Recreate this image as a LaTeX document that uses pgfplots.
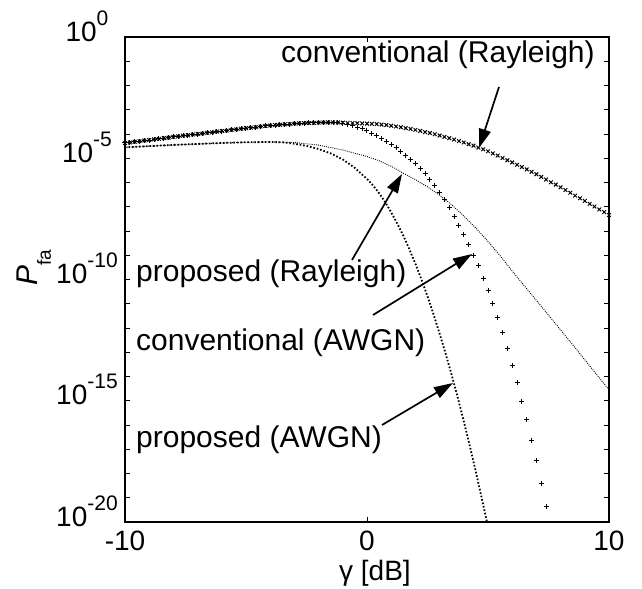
\documentclass[border=0pt]{standalone}
\usepackage{fontspec}
\setmainfont{Liberation Sans}
\usepackage{pgfplots}
\pgfplotsset{compat=1.18}
\usetikzlibrary{arrows.meta}
\newcommand{\tl}[1]{10\raisebox{16bp}{\fontsize{21bp}{21bp}\selectfont #1}}
\begin{document}
\begin{tikzpicture}
\path[use as bounding box] (-125bp,-67bp) rectangle (517bp,522bp);
\begin{axis}[
  at={(0,0)}, anchor=south west,
  scale only axis, width=484bp, height=485bp,
  xmin=-10, xmax=10, ymode=log, ymin=1e-20, ymax=1,
  xtick={-10,0,10}, xticklabels={-10,0,10},
  ytick={1e-20,1e-15,1e-10,1e-5,1},
  yticklabels={\tl{-20},\tl{-15},\tl{-10},\tl{-5},\tl{0}},
  minor ytick={1e-19,1e-18,1e-17,1e-16,1e-14,1e-13,1e-12,1e-11,1e-9,1e-8,1e-7,1e-6,1e-4,1e-3,1e-2,1e-1},
  tick align=inside, major tick length=5bp, minor tick length=5bp,
  tick style={black, line width=0.9bp},
  axis line style={line width=1.5bp},
  tick label style={font=\fontsize{28bp}{30bp}\selectfont},
  xticklabel style={anchor=base, yshift=-28bp},
  yticklabel style={anchor=base, xshift=-38bp, yshift=-4bp},
  xlabel={γ [dB]},
  xlabel style={at={(rel axis cs:0.5165,-0.1196)}, anchor=base, font=\fontsize{28bp}{30bp}\selectfont},
  ylabel={\textit{P}\raisebox{-13bp}{\fontsize{19bp}{19bp}\selectfont fa}},
  ylabel style={at={(rel axis cs:-0.1798,0.5247)}, anchor=base, rotate=0, font=\fontsize{30bp}{32bp}\selectfont},
  clip mode=individual,
]
% proposed (Rayleigh): thin dotted
\addplot[black, line width=0.9bp, dash pattern=on 0.9bp off 1.2bp] coordinates {
(-10,2.82e-5) (-9,3.16e-5) (-8,3.55e-5) (-7,3.89e-5) (-6,4.27e-5) (-5,4.57e-5)
(-4,4.68e-5) (-3,4.47e-5) (-2,3.47e-5) (-1,2.19e-5) (0,1.17e-5) (0.5,7.94e-6)
(1,4.68e-6) (1.5,2.40e-6) (2,1.32e-6) (2.5,6.61e-7) (3,3.02e-7) (3.5,1.20e-7)
(4,4.17e-8) (4.5,1.32e-8) (5,3.72e-9) (5.5,9.55e-10) (6,2.24e-10) (6.5,5.50e-11)
(7,1.38e-11) (7.5,3.39e-12) (8,8.32e-13) (8.5,2.04e-13) (9,4.90e-14) (9.5,1.17e-14)
(10,2.82e-15)};
% proposed (AWGN): thick dotted
\addplot[black, line width=1.8bp, dash pattern=on 1.6bp off 1.9bp] coordinates {
(-10,2.82e-5) (-9,3.16e-5) (-8,3.55e-5) (-7,3.89e-5) (-6,4.27e-5) (-5,4.57e-5)
(-4,4.68e-5) (-3.5,4.57e-5) (-3,3.98e-5) (-2.5,3.24e-5) (-2,2.40e-5) (-1.5,1.58e-5)
(-1,8.91e-6) (-0.5,3.98e-6) (0,1.41e-6) (0.25,7.59e-7) (0.5,3.63e-7) (0.75,1.55e-7)
(1,5.89e-8) (1.25,2.04e-8) (1.5,6.46e-9) (1.75,1.78e-9) (2,4.47e-10) (2.25,1.0e-10)
(2.5,2.04e-11) (2.75,3.63e-12) (3,5.89e-13) (3.25,8.71e-14) (3.5,1.15e-14)
(3.75,1.35e-15) (4,1.41e-16) (4.25,1.35e-17) (4.5,1.15e-18) (4.75,8.71e-20) (5,6.31e-21)};
% conventional (AWGN): plus marks
\addplot[black, only marks, mark=+, mark size=2.5bp, mark options={line width=1bp}] coordinates {
(-10,4.27e-5) (-9.8,4.47e-5) (-9.6,4.79e-5) (-9.4,5.01e-5) (-9.2,5.37e-5) (-9,5.62e-5)
(-8.8,6.03e-5) (-8.6,6.31e-5) (-8.4,6.76e-5) (-8.2,7.08e-5) (-8,7.59e-5) (-7.8,7.94e-5)
(-7.6,8.51e-5) (-7.4,8.91e-5) (-7.2,9.55e-5) (-7,1.00e-4) (-6.8,1.05e-4) (-6.6,1.12e-4)
(-6.4,1.17e-4) (-6.2,1.26e-4) (-6,1.32e-4) (-5.8,1.38e-4) (-5.6,1.48e-4) (-5.4,1.55e-4)
(-5.2,1.66e-4) (-5,1.74e-4) (-4.8,1.82e-4) (-4.6,1.91e-4) (-4.4,2.04e-4) (-4.2,2.14e-4)
(-4,2.24e-4) (-3.8,2.34e-4) (-3.6,2.40e-4) (-3.4,2.51e-4) (-3.2,2.57e-4) (-3,2.69e-4)
(-2.8,2.75e-4) (-2.6,2.82e-4) (-2.4,2.85e-4) (-2.2,2.88e-4) (-2,2.95e-4) (-1.8,2.99e-4)
(-1.6,3.02e-4) (-1.4,3.02e-4) (-1.2,2.88e-4) (-1,2.69e-4) (-0.8,2.45e-4) (-0.6,2.19e-4)
(-0.4,1.91e-4) (-0.2,1.62e-4) (0,1.35e-4) (0.2,1.10e-4) (0.4,8.71e-5) (0.6,6.76e-5)
(0.8,5.13e-5) (1,3.80e-5) (1.2,2.75e-5) (1.4,1.95e-5) (1.6,1.35e-5) (1.8,9.12e-6)
(2,6.03e-6) (2.2,3.80e-6) (2.4,2.29e-6) (2.6,1.32e-6) (2.8,7.24e-7) (3,3.80e-7)
(3.2,1.91e-7) (3.4,9.12e-8) (3.6,4.07e-8) (3.8,1.74e-8) (4,7.08e-9) (4.2,2.75e-9)
(4.4,1.02e-9) (4.6,3.72e-10) (4.8,1.12e-10) (5,3.47e-11) (5.2,1.05e-11) (5.4,2.69e-12)
(5.6,6.46e-13) (5.8,1.45e-13) (6,2.95e-14) (6.2,5.50e-15) (6.4,9.77e-16) (6.6,1.62e-16)
(6.8,2.40e-17) (7,3.31e-18) (7.2,3.98e-19) (7.4,4.27e-20)};
% conventional (Rayleigh): x marks
\addplot[black, only marks, mark=x, mark size=2.6bp, mark options={line width=1bp}] coordinates {
(-10,4.27e-5) (-9.8,4.47e-5) (-9.6,4.79e-5) (-9.4,5.01e-5) (-9.2,5.37e-5) (-9,5.62e-5)
(-8.8,6.03e-5) (-8.6,6.31e-5) (-8.4,6.76e-5) (-8.2,7.08e-5) (-8,7.59e-5) (-7.8,7.94e-5)
(-7.6,8.51e-5) (-7.4,8.91e-5) (-7.2,9.55e-5) (-7,1.00e-4) (-6.8,1.05e-4) (-6.6,1.12e-4)
(-6.4,1.17e-4) (-6.2,1.26e-4) (-6,1.32e-4) (-5.8,1.38e-4) (-5.6,1.48e-4) (-5.4,1.55e-4)
(-5.2,1.66e-4) (-5,1.74e-4) (-4.8,1.82e-4) (-4.6,1.91e-4) (-4.4,2.04e-4) (-4.2,2.14e-4)
(-4,2.24e-4) (-3.8,2.34e-4) (-3.6,2.40e-4) (-3.4,2.51e-4) (-3.2,2.57e-4) (-3,2.69e-4)
(-2.8,2.75e-4) (-2.6,2.82e-4) (-2.4,2.85e-4) (-2.2,2.88e-4) (-2,2.95e-4) (-1.8,2.99e-4)
(-1.6,3.02e-4) (-1.4,3.02e-4) (-1.2,2.99e-4) (-1,2.95e-4) (-0.8,2.88e-4) (-0.6,2.84e-4)
(-0.4,2.79e-4) (-0.2,2.74e-4) (0,2.69e-4) (0.2,2.63e-4) (0.4,2.57e-4) (0.6,2.45e-4)
(0.8,2.34e-4) (1,2.19e-4) (1.2,2.04e-4) (1.4,1.91e-4) (1.6,1.74e-4) (1.8,1.62e-4)
(2,1.48e-4) (2.2,1.35e-4) (2.4,1.20e-4) (2.6,1.10e-4) (2.8,9.77e-5) (3,8.71e-5)
(3.2,7.59e-5) (3.4,6.76e-5) (3.6,5.89e-5) (3.8,5.13e-5) (4,4.47e-5) (4.2,3.80e-5)
(4.4,3.31e-5) (4.6,2.75e-5) (4.8,2.34e-5) (5,1.95e-5) (5.2,1.58e-5) (5.4,1.29e-5)
(5.6,1.02e-5) (5.8,8.32e-6) (6,6.76e-6) (6.2,5.37e-6) (6.4,4.37e-6) (6.6,3.47e-6)
(6.8,2.75e-6) (7,2.19e-6) (7.2,1.70e-6) (7.4,1.32e-6) (7.6,1.02e-6) (7.8,8.13e-7)
(8,6.31e-7) (8.2,4.90e-7) (8.4,3.80e-7) (8.6,2.88e-7) (8.8,2.24e-7) (9,1.74e-7)
(9.2,1.32e-7) (9.4,1.02e-7) (9.6,7.76e-8) (9.8,6.03e-8) (10,4.57e-8)};
\end{axis}
\begin{scope}[font=\fontsize{30bp}{32bp}\selectfont]
\node[anchor=base west, inner sep=0] at (156bp,459bp) {conventional (Rayleigh)};
\node[anchor=base west, inner sep=0] at (11bp,240bp) {proposed (Rayleigh)};
\node[anchor=base west, inner sep=0] at (11bp,171bp) {conventional (AWGN)};
\node[anchor=base west, inner sep=0] at (11bp,74bp) {proposed (AWGN)};
\end{scope}
\begin{scope}[line width=1.7bp, -{Triangle[length=19bp,width=12bp]}]
\draw (374bp,435bp) -- (354bp,374bp);
\draw (227bp,262bp) -- (277bp,348bp);
\draw (248bp,207bp) -- (347bp,268bp);
\draw (257bp,97bp) -- (328bp,139bp);
\end{scope}
\end{tikzpicture}
\end{document}
